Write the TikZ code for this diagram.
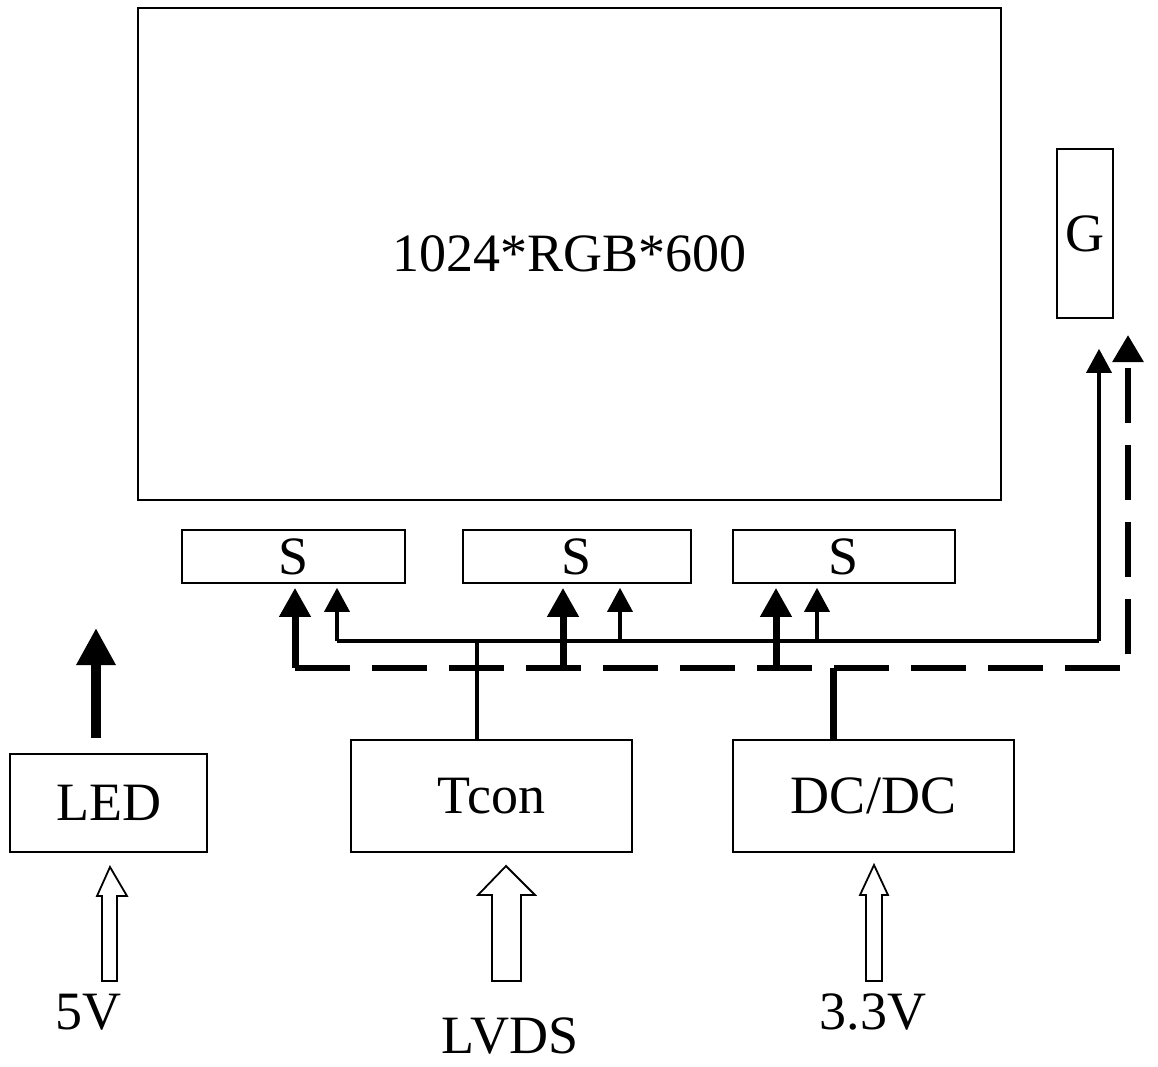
\documentclass[tikz,border=0pt]{standalone}
\usepackage{fontspec}
\setmainfont{Liberation Serif}
\usetikzlibrary{arrows.meta}
\begin{document}
\begin{tikzpicture}[x=1pt,y=-1pt,
  box/.style={draw, line width=1.6pt, inner sep=0pt, font=\fontsize{54}{60}\selectfont},
  lbl/.style={inner sep=0pt, font=\fontsize{54}{60}\selectfont},
  thickarr/.style={line width=7pt, -{Triangle[length=29pt,width=30pt]}, shorten >=4pt},
  thinarr/.style={line width=3.5pt, -{Triangle[length=24pt,width=25pt]}, shorten >=4pt},
  thinline/.style={line width=3.5pt},
  thickline/.style={line width=7pt},
  dashline/.style={line width=6pt, dash pattern=on 55pt off 22pt, line join=miter},
  hollow/.style={draw, line width=1.8pt, fill=white, line join=miter}
]
\useasboundingbox (0,0) rectangle (1158,1066);
% boxes
\node[box, minimum width=863pt, minimum height=492pt] (panel) at (569.5,254) {1024*RGB*600};
\node[box, minimum width=56pt, minimum height=169pt] (G) at (1085,233.5) {G};
\node[box, minimum width=223pt, minimum height=53pt] (S1) at (293.5,556.5) {S};
\node[box, minimum width=228pt, minimum height=53pt] (S2) at (577,556.5) {S};
\node[box, minimum width=222pt, minimum height=53pt] (S3) at (844,556.5) {S};
\node[box, minimum width=281pt, minimum height=112pt] (tcon) at (491.5,796) {Tcon};
\node[box, minimum width=281pt, minimum height=112pt] (dcdc) at (873.5,796) {DC/DC};
\node[box, minimum width=197pt, minimum height=98pt] (led) at (108.5,803) {LED};
% labels
\node[lbl] (v5) at (88,1012) {5V};
\node[lbl] (lvds) at (510,1036) {LVDS};
\node[lbl] (v33) at (873,1012) {3.3V};
% junction coordinates
\coordinate (d0) at (295,668);
\coordinate (d1) at (1128,668);
\coordinate (dg) at (1128,335);
\coordinate (t0) at (337,641);
\coordinate (t1) at (1099,641);
\coordinate (tc) at (477,641);
\coordinate (dc) at (833,668);
\coordinate (ledtop) at (96,628);
% thick dashed bus
\draw[dashline, -{Triangle[length=27pt,width=30pt]}] (d0) -- (d1) -- (dg);
% thin bus
\draw[thinline] (t0) -- (t1);
\draw[thinarr, shorten >=30pt] (t1) -- (t1 |- G.south);
% thick arrows into S boxes
\draw[thickarr] (d0) -- (d0 |- S1.south);
\draw[thickarr] (563,668) -- (563,583 |- S2.south);
\draw[thickarr] (776,668) -- (776,583 |- S3.south);
% thin arrows into S boxes
\draw[thinarr] (t0) -- (t0 |- S1.south);
\draw[thinarr] (620,641) -- (620,583 |- S2.south);
\draw[thinarr] (817,641) -- (817,583 |- S3.south);
% Tcon and DC/DC feeds
\draw[thinline] (tc) -- (tc |- tcon.north);
\draw[thickline] (dc) -- (dc |- dcdc.north);
% LED output arrow
\draw[line width=10pt, -{Triangle[length=37pt,width=37pt]}] (96,738) -- (ledtop);
% hollow input arrows
\draw[hollow] (102,981) -- (102,896) -- (97,896) -- (110,867) -- (127,896) -- (117,896) -- (117,981) -- cycle;
\draw[hollow] (492,981) -- (492,895) -- (478,895) -- (506,866) -- (535,895) -- (521,895) -- (521,981) -- cycle;
\draw[hollow] (866,981) -- (866,895) -- (860,895) -- (874,865) -- (888,895) -- (882,895) -- (882,981) -- cycle;
\end{tikzpicture}
\end{document}
